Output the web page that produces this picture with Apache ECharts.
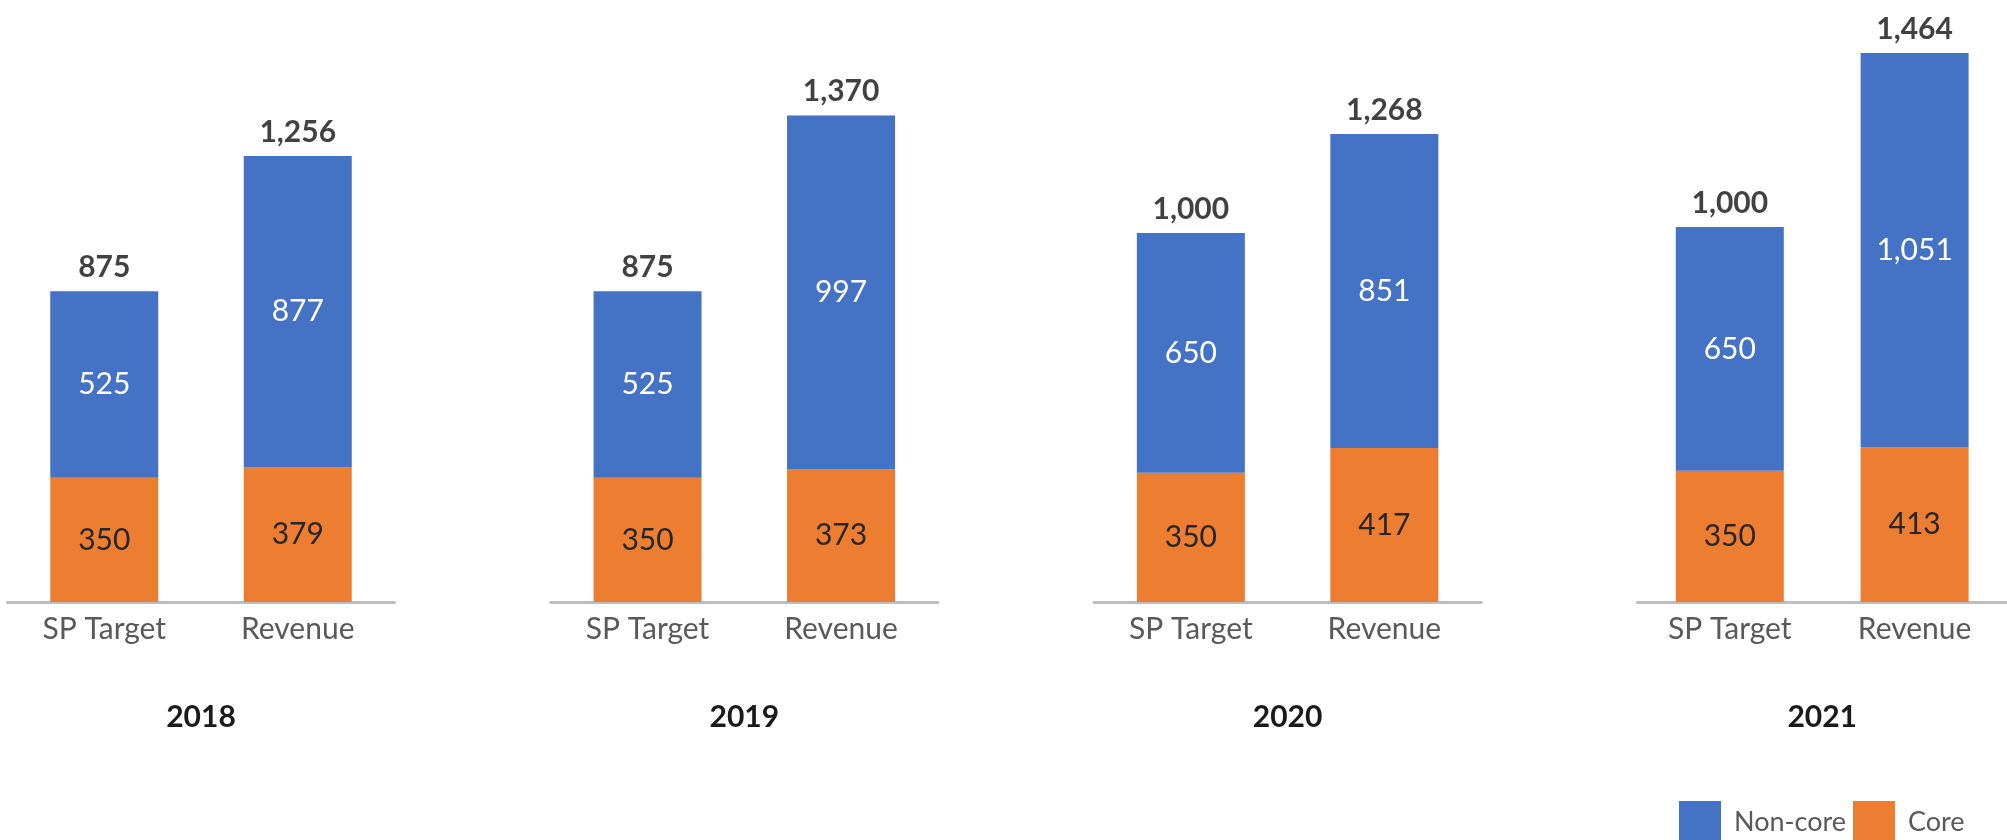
<!DOCTYPE html>
<html>
<head>
<meta charset="utf-8">
<script src="https://cdn.jsdelivr.net/npm/echarts@6/dist/echarts.min.js"></script>
<style>
html,body{margin:0;padding:0;background:#fff;}
#chart{width:2007px;height:840px;}
</style>
</head>
<body>
<div id="chart"></div>
<script>
// ---- data ----
const years = ['2018', '2019', '2020', '2021'];
const categories = ['SP Target', 'Revenue'];
const core = [[350, 379], [350, 373], [350, 417], [350, 413]];
const nonCore = [[525, 877], [525, 997], [650, 851], [650, 1051]];
const totals = [[875, 1256], [875, 1370], [1000, 1268], [1000, 1464]];
const legendNames = ['Non-core', 'Core'];

// ---- layout / style ----
const FONT = 'Lato';
const BLUE = '#4472C4';
const ORANGE = '#ED7D31';
const yMax = [1583, 1583, 1523, 1499];
const gridTop = 40, gridBottomY = 602, gridW = 387, step = 543.3, firstLeft = 7.5;

const fmt = v => Number(v).toLocaleString('en-US');

const grids = [], xAxes = [], yAxes = [], series = [];
years.forEach((yr, i) => {
  grids.push({ left: firstLeft + step * i, top: gridTop, width: gridW, height: gridBottomY - gridTop });
  xAxes.push({
    type: 'category', gridIndex: i, data: categories,
    axisTick: { show: false },
    axisLine: { lineStyle: { color: '#BDBDBD', width: 3 } },
    axisLabel: { color: '#595959', fontFamily: FONT, fontSize: 30, margin: 12 },
    name: yr, nameLocation: 'middle', nameGap: 100,
    nameTextStyle: { color: '#1a1a1a', fontFamily: FONT, fontSize: 30, fontWeight: 'bold' }
  });
  yAxes.push({ type: 'value', gridIndex: i, min: 0, max: yMax[i], show: false, splitLine: { show: false } });
  series.push({
    name: 'Core', type: 'bar', stack: 's' + i, xAxisIndex: i, yAxisIndex: i,
    data: core[i], barWidth: 108, itemStyle: { color: ORANGE },
    label: { show: true, position: 'inside', color: '#262626', fontFamily: FONT, fontSize: 30, formatter: p => fmt(p.value) }
  });
  series.push({
    name: 'Non-core', type: 'bar', stack: 's' + i, xAxisIndex: i, yAxisIndex: i,
    data: nonCore[i], barWidth: 108, itemStyle: { color: BLUE },
    label: { show: true, position: 'inside', color: '#ffffff', fontFamily: FONT, fontSize: 30, formatter: p => fmt(p.value) }
  });
  series.push({
    name: 'Total', type: 'scatter', xAxisIndex: i, yAxisIndex: i,
    data: totals[i], symbolSize: 0, silent: true,
    label: { show: true, position: 'top', distance: 9, color: '#111111', fontFamily: FONT, fontSize: 30, fontWeight: 'bold', formatter: p => fmt(p.value) }
  });
});

const legendLeft = [1679, 1853];
const legends = legendNames.map((nm, k) => ({
  data: [nm],
  left: legendLeft[k], top: 801, padding: 0,
  itemWidth: 42, itemHeight: 42,
  icon: 'rect',
  textStyle: { color: '#595959', fontFamily: FONT, fontSize: 27, padding: [0, 0, 0, 8] }
}));

const chart = echarts.init(document.getElementById('chart'));
chart.setOption({
  animation: false,
  backgroundColor: '#ffffff',
  grid: grids,
  xAxis: xAxes,
  yAxis: yAxes,
  legend: legends,
  series: series
});
</script>
</body>
</html>
